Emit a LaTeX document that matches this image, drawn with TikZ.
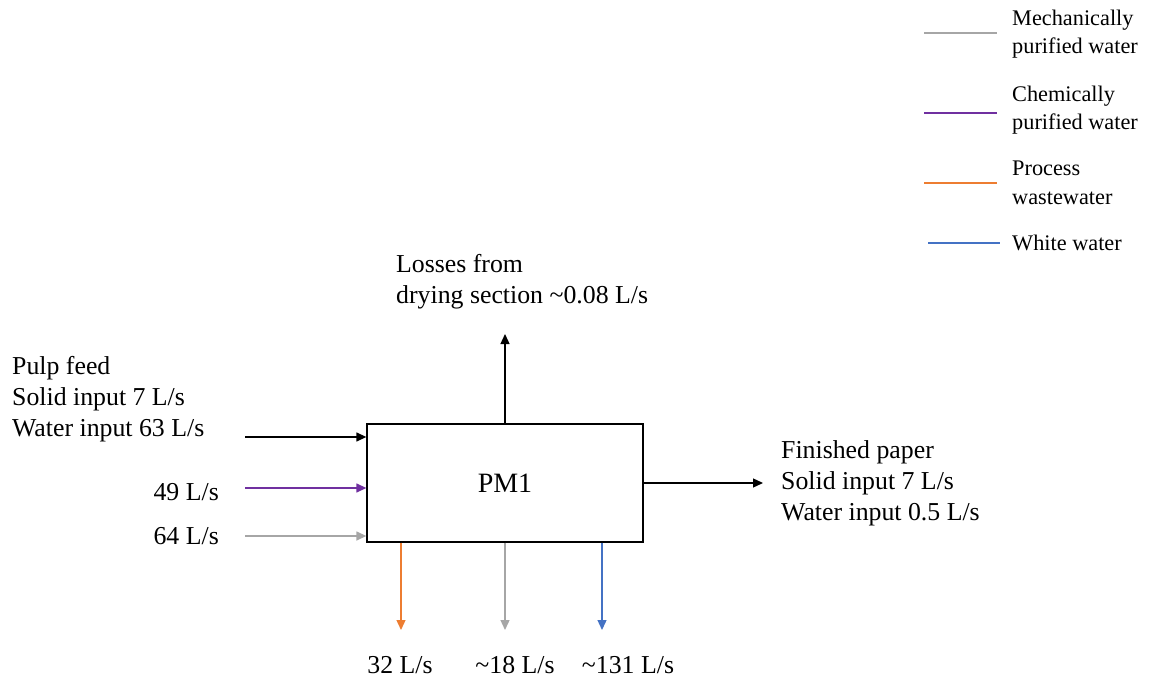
\documentclass[tikz,border=0pt]{standalone}
\usepackage{fontspec}
\setmainfont{Liberation Serif}
\usetikzlibrary{arrows.meta}
\definecolor{cpurple}{HTML}{7030A0}
\definecolor{cgray}{HTML}{A6A6A6}
\definecolor{corange}{HTML}{ED7D31}
\definecolor{cblue}{HTML}{4472C4}
\tikzset{
  txt/.style={inner sep=0pt, align=left, font=\fontsize{25.8}{31}\selectfont},
  legtxt/.style={inner sep=0pt, align=left, font=\fontsize{22.3}{28.5}\selectfont},
  flow/.style={line width=1.3pt, -{Triangle[length=10pt,width=9pt]}},
  legline/.style={line width=1.3pt},
  box/.style={draw, line width=1.3pt, minimum width=276pt, minimum height=118pt, inner sep=0pt, font=\fontsize{28}{32}\selectfont}
}
\begin{document}
\begin{tikzpicture}[x=1pt,y=-1pt]
\useasboundingbox (0,0) rectangle (1150,679);
% main box
\node[box] (pm) at (505,483) {PM1};
% free ends
\coordinate (inA) at (245,437);
\coordinate (inB) at (245,488);
\coordinate (inC) at (245,536);
\coordinate (up) at (505,334);
\coordinate (out) at (763,483);
\coordinate (dA) at (401,630);
\coordinate (dB) at (505,630);
\coordinate (dC) at (602,630);
% inputs
\draw[flow] (inA) -- (inA -| pm.west);
\draw[flow, cpurple] (inB) -- (inB -| pm.west);
\draw[flow, cgray] (inC) -- (inC -| pm.west);
% outputs
\draw[flow] (pm.north) -- (up);
\draw[flow] (pm.east) -- (out);
\draw[flow, corange] (dA |- pm.south) -- (dA);
\draw[flow, cgray] (pm.south) -- (dB);
\draw[flow, cblue] (dC |- pm.south) -- (dC);
% labels
\node[txt, anchor=west] (pulp) at (12,399) {Pulp feed\\Solid input 7 L/s\\Water input 63 L/s};
\node[txt, anchor=east] (l49) at (219,492) {49 L/s};
\node[txt, anchor=east] (l64) at (219,536) {64 L/s};
\node[txt, anchor=west] (loss) at (396,282) {Losses from\\drying section \textasciitilde 0.08 L/s};
\node[txt, anchor=west] (fin) at (781,483) {Finished paper\\Solid input 7 L/s\\Water input 0.5 L/s};
\node[txt] (l32) at (400,665) {32 L/s};
\node[txt] (l18) at (515,665) {\textasciitilde 18 L/s};
\node[txt] (l131) at (628,665) {\textasciitilde 131 L/s};
% legend
\node[legtxt, anchor=west] (legA) at (1012,34) {Mechanically\\purified water};
\node[legtxt, anchor=west] (legB) at (1012,110) {Chemically\\purified water};
\node[legtxt, anchor=west] (legC) at (1012,183) {Process\\wastewater};
\node[legtxt, anchor=west] (legD) at (1012,243) {White water};
\coordinate (la1) at (924,33); \coordinate (la2) at (997,33);
\coordinate (lb1) at (924,113); \coordinate (lb2) at (997,113);
\coordinate (lc1) at (924,183); \coordinate (lc2) at (997,183);
\coordinate (ld1) at (928,243); \coordinate (ld2) at (1000,243);
\draw[legline, cgray] (la1) -- (la2);
\draw[legline, cpurple] (lb1) -- (lb2);
\draw[legline, corange] (lc1) -- (lc2);
\draw[legline, cblue] (ld1) -- (ld2);
\end{tikzpicture}
\end{document}
